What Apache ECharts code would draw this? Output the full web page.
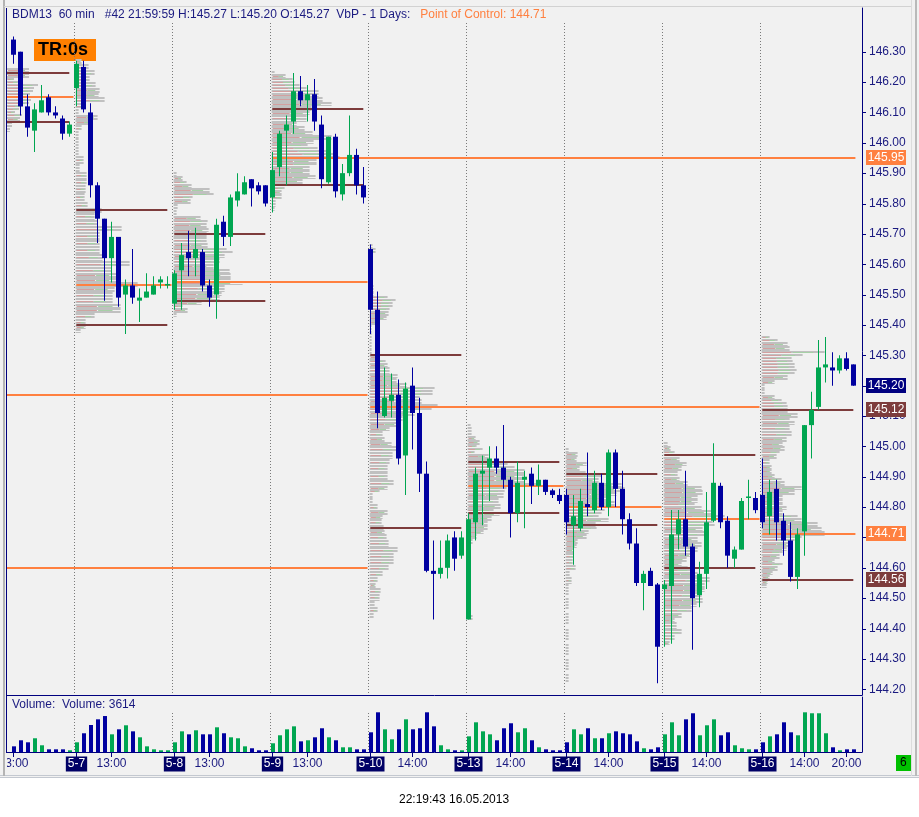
<!DOCTYPE html>
<html>
<head>
<meta charset="utf-8">
<script src="https://cdn.jsdelivr.net/npm/echarts@6/dist/echarts.min.js"></script>
<style>
html, body { margin: 0; padding: 0; background: #fff; }
#wrap { position: relative; width: 919px; height: 817px; overflow: hidden; }
#panel { position: absolute; left: 0; top: 0; width: 919px; height: 775px; background: #f1f1f1; border-bottom: 3px double #c3c8d0; }
#chart { position: absolute; left: 0; top: 0; width: 919px; height: 817px; }
</style>
</head>
<body>
<div id="wrap"><div id="panel"></div><div id="chart"></div></div>
<script>
var FONT = '"Liberation Sans", Arial, sans-serif';
var UP = '#00a651', DOWN = '#0000a0', BROWN = '#7d3c3c', ORANGE = '#ff8040', NAVY = '#00007f', TXT = '#1a1a80';

// visible window (bar index units) and price range of the panel
var X_MIN = -0.9, X_MAX = 121.24;
var Y_MIN = 144.181, Y_MAX = 146.444;
var VOL_MAX = 73700;
var VAP_PER_BAR = 7;

// sessions (first bar index of each day, 8:00 .. 21:00)
var sessionLabel = ['5-6', '5-7', '5-8', '5-9', '5-10', '5-13', '5-14', '5-15', '5-16'];
var sessionStart = [-5, 9, 23, 37, 51, 65, 79, 93, 107];
var sessionPOC = [146.15, 145.53, 145.54, 145.95, 145.13, 144.87, 144.80, 144.76, 144.71];
var sessionVAH = [146.23, 145.78, 145.70, 146.11, 145.30, 144.95, 144.91, 144.97, 145.12];
var sessionVAL = [146.07, 145.40, 145.48, 145.86, 144.73, 144.78, 144.74, 144.60, 144.56];
var olderPOC = [145.17, 144.60];

var priceTicks = [144.20, 144.30, 144.40, 144.50, 144.60, 144.70, 144.80, 144.90, 145.00, 145.10, 145.20,
  145.30, 145.40, 145.50, 145.60, 145.70, 145.80, 145.90, 146.00, 146.10, 146.20, 146.30];
var hourLabelAt = [0, 14, 28, 42, 57, 71, 85, 99, 113, 119];

var open = [
  146.34, 146.30, 146.12, 146.04, 146.10, 146.15, 146.10, 146.08, 146.03,
  146.18, 146.25, 146.10, 145.86, 145.75, 145.62, 145.69, 145.50, 145.53, 145.48, 145.49, 145.50, 145.54, 145.53,
  145.47, 145.58, 145.64, 145.62, 145.64, 145.53, 145.50, 145.74, 145.69, 145.81, 145.83, 145.88, 145.86, 145.86,
  145.82, 145.92, 146.04, 146.07, 146.17, 146.14, 146.16, 146.06, 145.87, 146.02, 145.83, 145.90, 145.96, 145.86,
  145.65, 145.45, 145.10, 145.15, 145.17, 144.97, 145.20, 145.11, 144.91, 144.59, 144.58, 144.60, 144.70, 144.64,
  144.43, 144.75, 144.91, 144.93, 144.96, 144.93, 144.89, 144.78, 144.89, 144.91, 144.87, 144.89, 144.855, 144.84,
  144.84, 144.74, 144.73, 144.81, 144.79, 144.88, 144.80, 144.98, 144.86, 144.76, 144.68, 144.55, 144.59, 144.545,
  144.53, 144.54, 144.71, 144.76, 144.67, 144.51, 144.58, 144.755, 144.87, 144.755, 144.63, 144.66, 144.83, 144.83,
  144.84, 144.77, 144.86, 144.755, 144.69, 144.57, 144.72, 145.07, 145.13, 145.26, 145.26, 145.25, 145.29, 145.27
];
var close = [
  146.29, 146.12, 146.05, 146.11, 146.14, 146.10, 146.09, 146.03, 146.06,
  146.26, 146.11, 145.86, 145.75, 145.62, 145.69, 145.49, 145.53, 145.49, 145.49, 145.51, 145.53, 145.55, 145.535,
  145.57, 145.63, 145.62, 145.65, 145.53, 145.49, 145.73, 145.69, 145.82, 145.84, 145.87, 145.85, 145.84, 145.80,
  145.91, 146.03, 146.06, 146.17, 146.14, 146.16, 146.07, 145.88, 146.02, 145.84, 145.90, 145.96, 145.86, 145.82,
  145.45, 145.11, 145.16, 145.17, 144.96, 145.19, 145.11, 144.91, 144.59, 144.58, 144.60, 144.69, 144.63, 144.70,
  144.76, 144.91, 144.92, 144.96, 144.93, 144.89, 144.78, 144.88, 144.90, 144.87, 144.89, 144.85, 144.84, 144.82,
  144.75, 144.77, 144.82, 144.80, 144.88, 144.80, 144.98, 144.86, 144.76, 144.68, 144.55, 144.58, 144.54, 144.34,
  144.545, 144.71, 144.76, 144.67, 144.50, 144.58, 144.75, 144.88, 144.75, 144.64, 144.66, 144.82, 144.835, 144.79,
  144.75, 144.85, 144.75, 144.69, 144.57, 144.71, 145.07, 145.12, 145.26, 145.27, 145.25, 145.29, 145.255, 145.20
];
var low = [
  146.26, 146.09, 146.02, 145.97, 146.10, 146.09, 146.08, 146.01, 146.02,
  146.12, 146.10, 145.82, 145.67, 145.48, 145.54, 145.46, 145.37, 145.47, 145.41, 145.49, 145.50, 145.52, 145.52,
  145.45, 145.45, 145.56, 145.56, 145.51, 145.46, 145.42, 145.66, 145.66, 145.79, 145.83, 145.79, 145.83, 145.79,
  145.77, 145.89, 145.86, 146.03, 146.12, 146.07, 146.04, 145.85, 145.865, 145.82, 145.81, 145.89, 145.83, 145.80,
  145.37, 145.06, 145.095, 145.095, 144.94, 144.84, 144.99, 144.85, 144.585, 144.43, 144.565, 144.565, 144.59, 144.63,
  144.43, 144.69, 144.74, 144.82, 144.91, 144.86, 144.70, 144.75, 144.73, 144.81, 144.84, 144.84, 144.83, 144.81,
  144.71, 144.61, 144.72, 144.77, 144.78, 144.79, 144.77, 144.80, 144.71, 144.66, 144.54, 144.46, 144.54, 144.22,
  144.34, 144.35, 144.66, 144.64, 144.33, 144.47, 144.53, 144.75, 144.73, 144.60, 144.60, 144.66, 144.76, 144.78,
  144.73, 144.71, 144.69, 144.64, 144.555, 144.53, 144.64, 144.96, 145.12, 145.21, 145.20, 145.24, 145.25, 145.20
];
var high = [
  146.35, 146.30, 146.16, 146.13, 146.19, 146.16, 146.12, 146.09, 146.07,
  146.27, 146.27, 146.13, 145.87, 145.75, 145.74, 145.69, 145.55, 145.65, 145.52, 145.57, 145.56, 145.56, 145.56,
  145.58, 145.67, 145.71, 145.72, 145.65, 145.55, 145.75, 145.76, 145.83, 145.90, 145.89, 145.88, 145.87, 145.86,
  145.97, 146.04, 146.09, 146.23, 146.22, 146.19, 146.21, 146.09, 146.02, 146.03, 145.93, 146.09, 145.98, 145.92,
  145.665, 145.51, 145.26, 145.24, 145.22, 145.21, 145.26, 145.16, 144.95, 144.69, 144.69, 144.71, 144.72, 144.72,
  144.78, 144.93, 144.97, 145.00, 145.00, 145.07, 144.90, 144.95, 144.92, 144.93, 144.94, 144.89, 144.86, 144.86,
  144.86, 144.84, 144.86, 144.98, 144.92, 144.91, 144.99, 144.99, 144.92, 144.78, 144.73, 144.59, 144.60, 144.55,
  144.56, 144.79, 144.79, 144.92, 144.68, 144.62, 144.85, 145.01, 144.88, 144.77, 144.67, 144.83, 144.89, 144.85,
  144.96, 144.89, 144.89, 144.78, 144.75, 144.73, 145.07, 145.18, 145.35, 145.36, 145.31, 145.30, 145.31, 145.27
];
var volume = [
  7600, 15700, 13000, 18400, 9000, 3600, 3600, 3600, 2300,
  13000, 25100, 36200, 43800, 48200, 23700, 30400, 35800, 27700, 19700, 7600, 3600, 2300, 2300,
  13000, 27700, 23700, 29100, 23700, 23700, 33100, 25100, 19700, 18400, 7600, 5000, 2300, 2300,
  11700, 22400, 30400, 34400, 14300, 15700, 19700, 31800, 19700, 15700, 6300, 6300, 3600, 3600,
  26400, 53200, 30400, 17000, 30400, 43800, 30400, 31800, 53200, 34400, 9000, 3600, 2300, 2300,
  21000, 39800, 27700, 23700, 15700, 31800, 38500, 26400, 31800, 15700, 6300, 3600, 2300, 2300,
  13000, 30400, 23700, 31800, 18400, 18400, 25100, 27700, 25100, 23700, 14300, 5000, 3600, 6300,
  23700, 39800, 22400, 43800, 51900, 22400, 35800, 43800, 22400, 26400, 9000, 5000, 3600, 3600,
  13000, 21000, 23700, 39800, 26400, 22400, 53200, 51900, 51900, 25100, 6300, 2300, 3600, 3614
];

// volume at price per session: [price, volume units]
var vap0506 = [[146.24,22],[146.22,22],[146.21,7],[146.20,12],[146.19,31],[146.18,27],[146.17,26],[146.16,23],
  [146.15,40],[146.14,24],[146.13,22],[146.12,16],[146.11,12],[146.10,8],[146.09,15],[146.08,13],[146.06,5],[146.04,3]];
var vap0507 = [[146.27,6],[146.25,13],[146.23,19],[146.21,14],[146.19,20],[146.17,24],[146.16,23],[146.14,29],[146.12,9],
  [146.10,3],[146.08,22],[146.07,17],[146.05,6],[146.03,3],[146.00,3],[145.97,3],[145.94,8],[145.92,4],[145.89,11],
  [145.87,11],[145.85,10],[145.82,9],[145.79,12],[145.78,26],[145.76,19],[145.73,22],[145.72,46],[145.69,24],[145.67,24],
  [145.65,24],[145.62,27],[145.60,54],[145.58,36],[145.56,41],[145.55,41],[145.53,62],[145.52,39],[145.50,37],[145.48,37],
  [145.46,45],[145.45,45],[145.43,19],[145.41,10],[145.39,10],[145.38,5]];
var vap0508 = [[145.90,3],[145.88,9],[145.87,13],[145.86,18],[145.84,36],[145.83,40],[145.82,19],[145.81,17],[145.79,4],
  [145.77,3],[145.75,27],[145.74,34],[145.73,33],[145.71,35],[145.70,33],[145.68,33],[145.66,34],[145.65,53],[145.64,59],
  [145.63,51],[145.61,46],[145.59,40],[145.58,56],[145.56,57],[145.55,57],[145.54,69],[145.52,51],[145.50,48],[145.49,46],
  [145.47,28],[145.46,9],[145.45,14],[145.43,3]];
var vap0509 = [[146.23,3],[146.22,14],[146.21,21],[146.20,23],[146.19,28],[146.18,35],[146.17,47],[146.16,47],[146.14,51],
  [146.13,60],[146.11,40],[146.10,38],[146.08,35],[146.06,25],[146.05,33],[146.03,41],[146.02,60],[146.00,42],[145.99,36],
  [145.98,46],[145.97,55],[145.96,65],[145.95,68],[145.94,45],[145.93,45],[145.92,38],[145.90,38],[145.89,44],[145.87,31],
  [145.86,26],[145.85,13],[145.84,10],[145.82,10],[145.80,4],[145.78,3]];
var vap0510 = [[145.66,3],[145.65,6],[145.62,2],[145.59,2],[145.56,2],[145.54,2],[145.52,4],[145.50,4],[145.49,18],
  [145.48,26],[145.47,23],[145.46,23],[145.45,20],[145.44,19],[145.42,17],[145.41,8],[145.39,2],[145.36,2],[145.33,2],
  [145.31,2],[145.29,10],[145.28,16],[145.27,18],[145.25,20],[145.23,28],[145.22,27],[145.20,37],[145.19,65],[145.18,63],
  [145.17,63],[145.16,50],[145.15,52],[145.13,68],[145.12,62],[145.11,45],[145.09,33],[145.07,30],[145.06,20],[145.04,13],
  [145.02,15],[145.01,22],[144.99,27],[144.97,23],[144.95,20],[144.93,18],[144.90,18],[144.88,24],[144.86,18],[144.85,10],
  [144.84,3],[144.82,3],[144.80,8],[144.78,18],[144.77,13],[144.75,12],[144.73,14],[144.72,15],[144.70,17],[144.68,19],
  [144.66,28],[144.64,24],[144.62,24],[144.60,19],[144.58,13],[144.56,8],[144.54,6],[144.53,11],[144.50,10],[144.48,5],
  [144.46,8],[144.44,4]];
var vap0513 = [[145.07,3],[145.06,4],[145.05,4],[145.04,4],[145.03,8],[145.01,12],[145.00,9],[144.99,15],[144.98,7],
  [144.97,21],[144.95,21],[144.94,40],[144.93,47],[144.92,57],[144.90,57],[144.89,57],[144.87,71],[144.86,39],[144.85,37],
  [144.84,36],[144.82,31],[144.80,33],[144.79,26],[144.78,32],[144.76,24],[144.75,20],[144.73,20],[144.72,16],[144.70,9],
  [144.69,5],[144.66,1],[144.62,1],[144.58,1],[144.54,1],[144.50,1],[144.46,1],[144.43,5]];
var vap0514 = [[144.99,3],[144.97,12],[144.96,11],[144.94,21],[144.93,14],[144.91,20],[144.90,36],[144.89,33],[144.87,56],
  [144.86,59],[144.84,51],[144.83,44],[144.81,49],[144.80,69],[144.79,39],[144.78,36],[144.77,33],[144.76,43],[144.74,30],
  [144.73,31],[144.72,23],[144.70,21],[144.69,12],[144.67,11],[144.66,8],[144.64,8],[144.62,7],[144.60,10],[144.58,4],
  [144.56,6],[144.53,3],[144.48,3],[144.43,3],[144.38,3],[144.33,3],[144.28,3],[144.23,3]];
var vap0515 = [[145.01,4],[144.99,7],[144.98,11],[144.97,14],[144.96,16],[144.94,23],[144.93,18],[144.91,14],[144.89,16],
  [144.88,24],[144.86,38],[144.85,39],[144.83,34],[144.82,34],[144.81,31],[144.80,38],[144.78,49],[144.77,61],[144.76,71],
  [144.75,49],[144.74,51],[144.73,39],[144.71,41],[144.69,34],[144.68,38],[144.66,34],[144.64,31],[144.63,23],[144.61,18],
  [144.60,24],[144.59,29],[144.58,34],[144.56,46],[144.54,41],[144.53,41],[144.51,38],[144.49,39],[144.48,33],[144.46,28],
  [144.44,18],[144.43,11],[144.41,13],[144.39,18],[144.37,11],[144.35,6]];
var vap0516 = [[145.36,8],[145.35,16],[145.34,26],[145.32,28],[145.31,63],[145.30,41],[145.29,30],[145.28,31],[145.27,33],
  [145.26,33],[145.25,35],[145.24,33],[145.23,26],[145.21,13],[145.20,3],[145.18,3],[145.16,13],[145.15,20],[145.14,25],
  [145.13,26],[145.12,26],[145.10,36],[145.09,28],[145.08,33],[145.06,28],[145.04,30],[145.02,25],[145.01,21],[144.99,23],
  [144.98,18],[144.97,15],[144.95,8],[144.93,10],[144.92,10],[144.90,13],[144.89,20],[144.88,23],[144.86,40],[144.85,33],
  [144.83,21],[144.82,21],[144.81,21],[144.80,25],[144.78,21],[144.77,36],[144.76,40],[144.74,56],[144.73,60],[144.71,63],
  [144.70,40],[144.69,33],[144.68,30],[144.66,25],[144.65,21],[144.64,18],[144.62,13],[144.61,21],[144.60,16],[144.58,11],
  [144.57,8],[144.55,6],[144.54,5]];
var profiles = [vap0506, vap0507, vap0508, vap0509, vap0510, vap0513, vap0514, vap0515, vap0516];

// ---------- derived rows ----------
var LAST = open.length - 1;
var LAST_END = LAST + 0.3;

var hours = [];
sessionStart.forEach(function (s) {
  for (var h = 8; h <= 21; h++) {
    if (s + h - 8 >= 0) hours.push(h);
  }
});

function sessionRange(k) {
  var a = Math.max(0, sessionStart[k]), b = Math.min(LAST, sessionStart[k] + 13);
  var lo = Infinity, hi = -Infinity;
  for (var i = a; i <= b; i++) { lo = Math.min(lo, low[i]); hi = Math.max(hi, high[i]); }
  return [lo, hi];
}
// a naked POC runs until a later session trades through it
function pocEnd(price, from) {
  for (var k = from; k < sessionStart.length; k++) {
    var r = sessionRange(k);
    if (price >= r[0] && price <= r[1]) return sessionStart[k] - 0.4;
  }
  return LAST_END;
}

var candleData = open.map(function (o, i) { return [i, o, close[i], low[i], high[i]]; });
var volData = volume.map(function (v, i) { return [i, v, close[i] >= open[i] ? 1 : 0]; });

var profileRows = [];
profiles.forEach(function (rows, d) {
  var s = rows.slice().sort(function (a, b) { return b[0] - a[0]; });
  s.forEach(function (r, k) {
    var up = k > 0 ? (s[k - 1][0] - r[0]) / 2 : 0.005;
    var dn = k < s.length - 1 ? (r[0] - s[k + 1][0]) / 2 : 0.005;
    profileRows.push([d, r[0], r[1], Math.min(dn, 0.02), Math.min(up, 0.02)]);
  });
});

var levelRows = [];
sessionStart.forEach(function (s, d) {
  levelRows.push([s, s + 13, sessionVAH[d], 0]);
  levelRows.push([s, s + 13, sessionVAL[d], 0]);
  levelRows.push([s, pocEnd(sessionPOC[d], d + 1), sessionPOC[d], 1]);
});
olderPOC.forEach(function (p) { levelRows.push([X_MIN - 1, pocEnd(p, 0), p, 1]); });

var tagRows = [];
levelRows.forEach(function (r) { if (r[3] === 1 && r[1] >= LAST_END) tagRows.push([r[2], 1]); });
var LS = sessionStart.length - 1;
tagRows.push([sessionVAH[LS], 0], [sessionVAL[LS], 0], [close[LAST], 2]);

var xLabels = [];
hourLabelAt.forEach(function (i) { xLabels.push({ i: i, text: hours[i] + ':00', day: false }); });
sessionStart.forEach(function (s, k) { if (s >= 0) xLabels.push({ i: s, text: sessionLabel[k], day: true }); });

// ---------- renderers ----------
function renderProfile(params, api) {
  var d = api.value(0), p = api.value(1), v = api.value(2), dn = api.value(3), up = api.value(4);
  var x0 = Math.max(sessionStart[d] - 0.1, X_MIN);
  var a = api.coord([x0, p + up]);
  var b = api.coord([x0 + v / VAP_PER_BAR, p - dn]);
  var w = Math.max(1, b[0] - a[0]);
  var y0 = Math.round(a[1]), y1 = Math.round(b[1]);
  var kids = [];
  for (var y = y0; y < y1; y += 3) {
    kids.push({ type: 'rect', shape: { x: a[0], y: y, width: w, height: Math.min(2, y1 - y) }, style: { fill: '#c0c0c0' } });
  }
  if (!kids.length) kids.push({ type: 'rect', shape: { x: a[0], y: y0, width: w, height: 1 }, style: { fill: '#c0c0c0' } });
  var ym = y0 + Math.floor((y1 - y0) / 2);
  if (w > 6) {
    kids.push({ type: 'rect', shape: { x: a[0] + 1, y: ym, width: w * 0.45, height: 1 }, style: { fill: '#d3a0a0' } });
    kids.push({ type: 'rect', shape: { x: a[0] + w * 0.5, y: ym, width: w * 0.32, height: 1 }, style: { fill: '#a6d0a6' } });
  }
  return { type: 'group', children: kids };
}

function renderCandle(params, api) {
  var i = api.value(0), o = api.value(1), c = api.value(2), l = api.value(3), h = api.value(4);
  var po = api.coord([i, o]), pc = api.coord([i, c]), pl = api.coord([i, l]), ph = api.coord([i, h]);
  var x = Math.round(po[0]);
  var col = c >= o ? UP : DOWN;
  var top = Math.min(po[1], pc[1]);
  var bh = Math.max(1.5, Math.abs(po[1] - pc[1]));
  return { type: 'group', children: [
    { type: 'rect', shape: { x: x, y: ph[1], width: 1, height: Math.max(1, pl[1] - ph[1]) }, style: { fill: col } },
    { type: 'rect', shape: { x: x - 2, y: top, width: 5, height: bh }, style: { fill: col } }
  ] };
}

function renderVolume(params, api) {
  var i = api.value(0), v = api.value(1), isUp = api.value(2);
  var t = api.coord([i, v]), b = api.coord([i, 0]);
  return { type: 'rect', shape: { x: Math.round(t[0]) - 1, y: t[1], width: 4, height: b[1] - t[1] },
    style: { fill: isUp ? UP : DOWN } };
}

function renderLevel(params, api) {
  var a = api.coord([api.value(0), api.value(2)]);
  var b = api.coord([api.value(1), api.value(2)]);
  var y = Math.round(a[1]);
  return { type: 'rect', shape: { x: a[0], y: y - 1, width: b[0] - a[0], height: 2 },
    style: { fill: api.value(3) === 1 ? ORANGE : BROWN } };
}

function sepRenderer(topVal, botVal, topPad) {
  return function (params, api) {
    var t = api.coord([api.value(0) - 0.4, topVal]);
    var b = api.coord([api.value(0) - 0.4, botVal]);
    var x = Math.round(t[0]) + 0.5;
    return { type: 'line', shape: { x1: x, y1: t[1] + topPad, x2: x, y2: b[1] },
      style: { stroke: '#7a7a7a', lineWidth: 1, lineDash: [1, 2] } };
  };
}

// price ticks pointing out of the right axis line
function renderPriceTick(params, api) {
  var p = api.coord([X_MAX, api.value(0)]);
  return { type: 'rect', shape: { x: p[0], y: Math.round(p[1]), width: 4, height: 1 }, style: { fill: NAVY } };
}

function renderTag(params, api) {
  var p = api.coord([X_MAX, api.value(0)]);
  var k = api.value(1);
  var fill = k === 1 ? ORANGE : (k === 2 ? '#000080' : '#7d3c3c');
  var y = Math.round(p[1]);
  return { type: 'group', children: [
    { type: 'rect', shape: { x: p[0] + 4, y: y - 8, width: 40, height: 15 }, style: { fill: fill } },
    { type: 'text', x: p[0] + 24, y: y, style: { text: api.value(0).toFixed(2), fill: '#ffffff',
      font: '12px ' + FONT, align: 'center', verticalAlign: 'middle' } }
  ] };
}

function renderXLabel(params, api) {
  var lab = xLabels[params.dataIndex];
  var p = api.coord([lab.i, 0]);
  var cs = params.coordSys;
  var x = Math.round(p[0]);
  var kids = [
    { type: 'rect', shape: { x: x, y: p[1] + 1, width: 1, height: 4 }, style: { fill: NAVY } }
  ];
  if (lab.day) {
    kids.push({ type: 'text', x: x + 0.5, y: p[1] + 12, style: { text: lab.text, fill: '#ffffff', backgroundColor: '#000066',
      padding: [2, 2, 1, 2], font: '12px ' + FONT, align: 'center', verticalAlign: 'middle' } });
  } else {
    // the first label is cut by the left edge of the plot
    var cut = Math.max(cs.x - (x + 0.5), -40);
    kids.push({ type: 'text', x: x + 0.5, y: p[1] + 12,
      clipPath: { type: 'rect', shape: { x: cut, y: -15, width: 80, height: 30 } },
      style: { text: lab.text, fill: TXT, font: '12px ' + FONT, align: 'center', verticalAlign: 'middle' } });
  }
  return { type: 'group', children: kids };
}

// ---------- chart ----------
var chart = echarts.init(document.getElementById('chart'));

var axisX = function (g) {
  return { type: 'value', gridIndex: g, min: X_MIN, max: X_MAX,
    axisLine: { show: true, onZero: false, lineStyle: { color: NAVY, width: 1 } },
    axisTick: { show: false }, axisLabel: { show: false }, splitLine: { show: false } };
};

var titleText = 'BDM13  60 min   #42 21:59:59 H:' + high[LAST].toFixed(2) + ' L:' + low[LAST].toFixed(2) +
  ' O:' + open[LAST].toFixed(2) + '  VbP - 1 Days:   ';

var option = {
  animation: false,
  backgroundColor: 'transparent',
  textStyle: { fontFamily: FONT },
  grid: [
    { left: 7, top: 8, width: 855, height: 687 },
    { left: 7, top: 697, width: 855, height: 55 }
  ],
  xAxis: [axisX(0), axisX(1)],
  yAxis: [
    { type: 'value', gridIndex: 0, position: 'right', min: Y_MIN, max: Y_MAX,
      axisLine: { show: true, onZero: false, lineStyle: { color: NAVY } },
      axisTick: { show: false },
      axisLabel: { customValues: priceTicks, color: TXT, fontSize: 12, fontFamily: FONT, margin: 7,
        formatter: function (v) { return v.toFixed(2); } },
      splitLine: { show: false } },
    { type: 'value', gridIndex: 1, position: 'right', min: 0, max: VOL_MAX,
      axisLine: { show: true, onZero: false, lineStyle: { color: NAVY } },
      axisTick: { show: false }, axisLabel: { show: false }, splitLine: { show: false } }
  ],
  graphic: [
    { type: 'rect', left: 3, top: 0, shape: { width: 2, height: 776 }, style: { fill: '#b4b4b4' } },
    { type: 'rect', left: 6, top: 8, shape: { width: 1, height: 745 }, style: { fill: NAVY } },
    { type: 'rect', left: 4, top: 6, shape: { width: 908, height: 1 }, style: { fill: '#d2d2d2' } },
    { type: 'rect', left: 911, top: 0, shape: { width: 1, height: 776 }, style: { fill: '#dcdcdc' } },
    { type: 'rect', left: 915, top: 0, shape: { width: 2, height: 776 }, style: { fill: '#b9b9b9' } },
    { type: 'text', left: 12, top: 9, style: { text: '{a|' + titleText + '}{b|Point of Control: ' + sessionPOC[LS].toFixed(2) + '}',
      font: '12px ' + FONT, rich: { a: { fill: TXT, font: '12px ' + FONT }, b: { fill: ORANGE, font: '12px ' + FONT } } } },
    { type: 'rect', left: 34, top: 39, shape: { width: 62, height: 22 }, style: { fill: '#ff8000' } },
    { type: 'text', left: 38, top: 41, style: { text: 'TR:0s', fill: '#000000', font: 'bold 18px ' + FONT } },
    { type: 'text', left: 12, top: 699, style: { text: 'Volume:  Volume: ' + volume[LAST], fill: TXT, font: '12px ' + FONT } },
    { type: 'rect', left: 896, top: 755, shape: { width: 15, height: 16 }, style: { fill: '#00c000' } },
    { type: 'text', left: 900, top: 757, style: { text: '6', fill: '#000000', font: '12px ' + FONT } },
    { type: 'text', left: 399, top: 794, style: { text: '22:19:43 16.05.2013', fill: '#000000', font: '12px ' + FONT } }
  ],
  series: [
    { type: 'custom', name: 'profile', xAxisIndex: 0, yAxisIndex: 0, clip: true, silent: true,
      renderItem: renderProfile, data: profileRows, z: 1 },
    { type: 'custom', name: 'sessions', xAxisIndex: 0, yAxisIndex: 0, silent: true,
      renderItem: sepRenderer(Y_MAX, Y_MIN, 15), data: sessionStart.filter(function (s) { return s > 0; }).map(function (s) { return [s]; }), z: 2 },
    { type: 'custom', name: 'levels', xAxisIndex: 0, yAxisIndex: 0, clip: true, silent: true,
      renderItem: renderLevel, data: levelRows, z: 3 },
    { type: 'custom', name: 'BDM13', xAxisIndex: 0, yAxisIndex: 0, clip: true, silent: true,
      renderItem: renderCandle, data: candleData, encode: { x: 0, y: [1, 2, 3, 4] }, z: 4 },
    { type: 'custom', name: 'priceTicks', xAxisIndex: 0, yAxisIndex: 0, silent: true,
      renderItem: renderPriceTick, data: priceTicks.map(function (p) { return [p]; }), z: 5 },
    { type: 'custom', name: 'tags', xAxisIndex: 0, yAxisIndex: 0, silent: true,
      renderItem: renderTag, data: tagRows, z: 6 },
    { type: 'custom', name: 'volSessions', xAxisIndex: 1, yAxisIndex: 1, silent: true,
      renderItem: sepRenderer(VOL_MAX, 0, 16), data: sessionStart.filter(function (s) { return s > 0; }).map(function (s) { return [s]; }), z: 2 },
    { type: 'custom', name: 'Volume', xAxisIndex: 1, yAxisIndex: 1, clip: true, silent: true,
      renderItem: renderVolume, data: volData, z: 4 },
    { type: 'custom', name: 'timeAxis', xAxisIndex: 1, yAxisIndex: 1, silent: true,
      renderItem: renderXLabel, data: xLabels.map(function (l) { return [l.i, 0]; }), z: 6 }
  ]
};
chart.setOption(option);
</script>
</body>
</html>
